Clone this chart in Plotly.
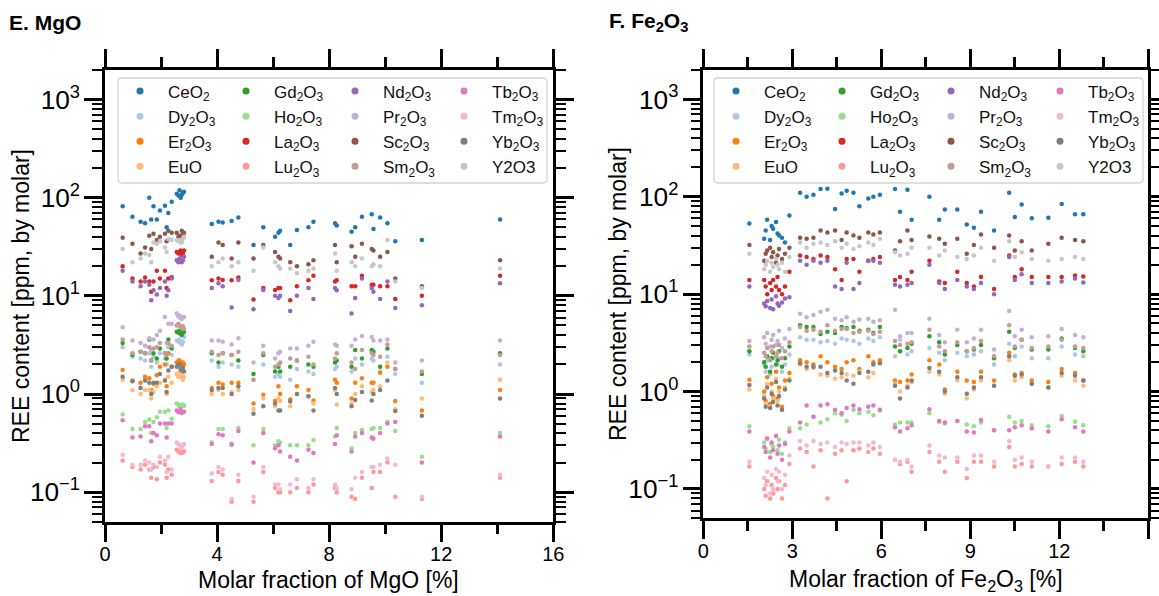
import math
import plotly.graph_objects as go

W, H = 1159, 596
FONT = "Liberation Sans, Arial, sans-serif"

# ---------------- Panel E : x = molar fraction of MgO [%] ----------------
MGO_X = [0.63, 0.98, 1.27, 1.43, 1.58, 1.65, 1.73, 1.85, 1.96, 2.14,
         2.2, 2.26, 2.38, 2.56, 2.62, 2.66, 2.7, 2.74, 2.78, 2.82,
         3.81, 4.05, 4.2, 4.52, 4.76, 5.3, 5.65, 6.07, 6.19, 6.25,
         6.61, 6.85, 7.26, 7.44, 8.21, 8.27, 8.8, 8.93, 9.17, 9.52,
         9.58, 9.82, 10.08, 10.36, 11.31, 14.1]
MGO_CEO2 = [82, 64, 57, 55, 100, 60, 82, 60, 74, 83,
            50, 70, 91, 110, 105, 119, 100, 107, 112, 115,
            54, 57, 56, 58, 63, 33, 50, 40, 44, 46,
            33, 47, 50, 57, 55, 52, 45, 50, 64, 68,
            48, 63, 55, 36, 37, 60]
MGO_DY2O3 = [3.0, 2.4, 2.3, 2.2, 2.6, 1.9, 2.4, 2.1, 2.6, 2.3,
             2.0, 3.0, 2.5, 3.5, 3.4, 3.6, 3.3, 3.2, 3.4, 3.8,
             2.2, 1.9, 2.1, 2.0, 1.9, 1.4, 2.0, 1.5, 1.6, 1.5,
             1.4, 1.8, 1.7, 1.6, 1.8, 1.9, 1.7, 2.3, 2.0, 2.3,
             2.2, 1.7, 2.4, 1.6, 1.3, 2.0]
MGO_ER2O3 = [1.76, 1.37, 1.3, 1.5, 1.45, 1.1, 1.27, 1.55, 1.9, 2.0,
             1.2, 2.6, 1.9, 2.1, 2.2, 2.2, 2.1, 2.0, 2.1, 2.0,
             1.15, 1.3, 1.25, 1.3, 1.3, 0.8, 0.98, 0.85, 1.2, 1.0,
             0.88, 1.2, 1.1, 0.86, 1.4, 1.3, 0.9, 1.3, 1.45, 1.3,
             1.3, 1.65, 1.9, 0.85, 0.68, 1.1]
MGO_EUO = [1.4, 1.09, 1.0, 1.1, 1.1, 0.9, 1.05, 1.2, 1.3, 1.4,
           1.0, 1.5, 1.3, 1.6, 1.5, 1.7, 1.5, 1.6, 1.4, 1.5,
           1.0, 1.1, 1.0, 1.05, 1.1, 0.7, 0.9, 0.75, 0.9, 0.85,
           0.75, 1.0, 0.95, 0.8, 1.1, 0.78, 0.8, 1.0, 1.2, 1.05,
           1.1, 1.2, 2.1, 0.7, 0.9, 1.4]
MGO_GD2O3 = [3.3, 2.5, 2.7, 2.6, 3.6, 2.2, 2.6, 2.3, 2.9, 2.6,
             2.3, 3.6, 2.9, 4.3, 4.2, 4.4, 4.1, 4.0, 4.2, 4.3,
             2.6, 2.1, 2.6, 2.5, 2.2, 1.6, 2.5, 1.7, 1.9, 1.7,
             1.9, 2.2, 2.0, 1.9, 2.1, 2.2, 1.9, 2.8, 2.3, 2.8,
             2.7, 1.9, 2.9, 1.8, 1.6, 2.6]
MGO_HO2O3 = [0.62, 0.44, 0.44, 0.52, 0.55, 0.4, 0.52, 0.58, 0.66, 0.66,
             0.45, 0.68, 0.56, 0.8, 0.78, 0.74, 0.77, 0.76, 0.78, 0.76,
             0.32, 0.44, 0.44, 0.3, 0.45, 0.3, 0.44, 0.3, 0.33, 0.32,
             0.3, 0.3, 0.3, 0.34, 0.37, 0.45, 0.28, 0.4, 0.43, 0.44,
             0.45, 0.45, 0.52, 0.42, 0.23, 0.4]
MGO_LA2O3 = [20, 15, 14, 15.4, 14, 11, 14, 18, 15, 18,
             12, 15, 15.5, 28, 27, 28, 29, 26, 27, 29,
             14.4, 15, 14.5, 14.4, 15.4, 9.2, 12, 11.5, 12, 12,
             9, 12.5, 14.4, 16, 14, 14.4, 12.5, 12.5, 16, 13,
             13, 12.5, 12.5, 9.3, 10, 16]
MGO_LU2O3 = [0.21, 0.18, 0.17, 0.19, 0.17, 0.14, 0.18, 0.135, 0.2, 0.19,
             0.14, 0.17, 0.15, 0.27, 0.26, 0.26, 0.25, 0.25, 0.26, 0.26,
             0.13, 0.16, 0.15, 0.08, 0.13, 0.08, 0.16, 0.11, 0.1, 0.1,
             0.1, 0.11, 0.1, 0.12, 0.11, 0.1, 0.09, 0.085, 0.14, 0.11,
             0.16, 0.16, 0.2, 0.09, 0.085, 0.14]
MGO_ND2O3 = [18, 14, 12.5, 14, 13, 9, 11.4, 10.3, 12, 14,
             10, 11.4, 15, 23, 22, 24, 23, 22, 23, 25,
             12, 13.4, 12.5, 7.6, 14.5, 7.3, 11.5, 10, 9.5, 10,
             7, 10, 12, 9.3, 12, 11.4, 6.6, 9.5, 15, 12,
             11, 9.3, 14, 7.5, 8, 13.4]
MGO_PR2O3 = [4.8, 3.5, 3.3, 3.1, 3.7, 2.8, 3.6, 4.0, 4.4, 6.1,
             3.3, 5.2, 5.2, 6.6, 6.2, 6.3, 5.9, 5.8, 6.0, 6.1,
             3.5, 3.5, 3.4, 3.2, 3.7, 2.1, 3.1, 2.3, 2.6, 2.7,
             2.9, 2.9, 3.1, 3.4, 3.2, 3.1, 3.1, 3.6, 3.9, 3.8,
             3.5, 3.5, 3.6, 2.1, 2.2, 3.5]
MGO_SC2O3 = [39, 34, 27, 31, 41, 30, 43, 37, 40, 43,
             36, 46, 44, 44, 40, 41, 38, 46, 42, 44,
             25, 35, 33, 24, 35, 24, 33, 28, 25, 24,
             22, 20, 21, 23, 33, 22, 32, 25, 34, 30,
             29, 25, 28, 15, 12.5, 23]
MGO_SM2O3 = [3.6, 2.6, 2.7, 2.6, 3.0, 2.2, 2.9, 3.0, 3.3, 2.6,
             2.5, 3.3, 3.1, 5.0, 5.2, 5.0, 4.8, 4.7, 4.9, 4.6,
             2.7, 2.5, 2.6, 2.5, 2.7, 1.4, 2.6, 1.9, 2.0, 2.1,
             2.3, 2.2, 2.4, 2.0, 2.3, 2.6, 2.1, 1.8, 2.8, 2.6,
             2.5, 2.4, 3.2, 1.8, 1.7, 2.5]
MGO_TB2O3 = [0.54, 0.36, 0.37, 0.47, 0.47, 0.33, 0.4, 0.38, 0.5, 0.5,
             0.36, 0.5, 0.5, 0.68, 0.65, 0.66, 0.7, 0.64, 0.66, 0.66,
             0.31, 0.39, 0.38, 0.31, 0.42, 0.2, 0.4, 0.28, 0.3, 0.26,
             0.23, 0.21, 0.27, 0.25, 0.31, 0.38, 0.26, 0.37, 0.4, 0.36,
             0.35, 0.4, 0.5, 0.52, 0.2, 0.37]
MGO_TM2O3 = [0.24, 0.19, 0.19, 0.21, 0.2, 0.17, 0.19, 0.18, 0.23, 0.21,
             0.16, 0.23, 0.17, 0.32, 0.31, 0.3, 0.29, 0.29, 0.3, 0.31,
             0.155, 0.18, 0.17, 0.085, 0.15, 0.09, 0.18, 0.12, 0.12, 0.107,
             0.12, 0.135, 0.11, 0.135, 0.12, 0.11, 0.107, 0.14, 0.16, 0.18,
             0.18, 0.19, 0.22, 0.19, 0.09, 0.15]
MGO_YB2O3 = [1.5, 1.35, 1.15, 1.37, 1.3, 1.0, 1.3, 1.3, 1.6, 1.37,
             1.05, 1.74, 1.9, 1.9, 2.0, 2.0, 1.8, 1.74, 1.85, 1.7,
             1.1, 1.15, 1.15, 1.0, 1.2, 0.63, 0.75, 0.8, 0.68, 0.68,
             0.84, 1.0, 0.95, 0.68, 1.15, 1.0, 0.75, 0.87, 1.05, 0.86,
             1.0, 1.1, 1.37, 0.67, 0.6, 0.9]
MGO_Y2O3 = [30, 22, 24, 27, 26, 22, 35, 34, 36, 31,
            28, 38, 37, 37, 36, 37, 35, 35, 38, 40,
            20, 22, 24, 20, 22, 18, 31, 22, 20, 19,
            19, 17, 18, 19, 27, 18, 22, 20, 24, 20,
            21, 20, 37, 14, 12, 19]

# ---------------- Panel F : x = molar fraction of Fe2O3 [%] ----------------
FE_X = [1.55, 2.05, 2.1, 2.15, 2.25, 2.3, 2.35, 2.45, 2.5, 2.55,
        2.65, 2.75, 2.9, 3.26, 3.48, 3.71, 3.95, 4.18, 4.44, 4.66,
        4.83, 5.06, 5.26, 5.56, 5.73, 5.95, 6.46, 6.63, 6.88, 7.02,
        7.62, 7.95, 8.14, 8.56, 8.88, 9.12, 9.36, 9.8, 10.31, 10.5,
        10.73, 11.07, 11.63, 12.08, 12.53, 12.81]
FE_CEO2 = [53, 37, 45, 58, 36, 50, 47, 55, 42, 40,
           38, 34, 64, 110, 100, 105, 120, 121, 75, 108,
           115, 110, 80, 96, 100, 105, 120, 70, 118, 58,
           100, 58, 74, 74, 52, 48, 70, 45, 110, 62,
           83, 60, 61, 84, 66, 66]
FE_DY2O3 = [2.4, 1.9, 1.6, 2.1, 1.5, 1.8, 2.2, 1.6, 1.9, 2.2,
            1.6, 1.9, 2.4, 3.6, 3.4, 3.4, 3.2, 3.3, 3.1, 3.5,
            3.4, 3.3, 3.1, 3.5, 3.3, 3.6, 2.3, 3.4, 2.4, 2.6,
            2.8, 2.5, 2.1, 2.5, 2.3, 2.4, 2.6, 1.9, 3.1, 2.3,
            2.9, 2.2, 2.2, 2.9, 2.4, 2.3]
FE_ER2O3 = [1.32, 1.0, 0.8, 1.4, 0.75, 1.2, 0.9, 1.6, 0.85, 1.1,
            0.7, 1.3, 1.55, 2.1, 2.0, 1.9, 2.3, 2.0, 1.8, 1.7,
            2.0, 2.1, 1.7, 2.3, 2.0, 2.1, 1.3, 1.25, 1.3, 1.5,
            2.1, 1.9, 1.05, 1.6, 1.3, 1.25, 1.6, 1.3, 2.5, 1.5,
            1.55, 1.3, 1.25, 1.7, 1.55, 1.3]
FE_EUO = [1.05, 0.9, 0.75, 1.2, 0.7, 1.0, 0.85, 1.35, 0.8, 1.0,
          0.65, 1.1, 1.35, 1.9, 1.7, 1.75, 1.5, 1.45, 1.35, 1.4,
          1.5, 1.45, 1.6, 1.4, 1.55, 1.95, 1.2, 1.0, 1.15, 1.25,
          1.6, 1.5, 0.95, 1.3, 0.85, 1.05, 1.3, 1.15, 2.1, 1.3,
          1.4, 1.2, 1.1, 1.45, 1.3, 1.15]
FE_GD2O3 = [2.6, 2.0, 1.8, 2.3, 1.6, 2.2, 2.5, 1.9, 2.1, 2.6,
            1.8, 2.2, 2.9, 4.8, 4.6, 4.6, 3.9, 4.1, 4.0, 4.6,
            4.5, 4.6, 4.2, 4.3, 4.0, 4.6, 2.9, 2.6, 2.8, 3.1,
            3.7, 3.2, 2.4, 3.0, 2.6, 2.7, 3.0, 2.2, 4.1, 2.8,
            3.4, 2.7, 2.7, 3.5, 2.8, 2.6]
FE_HO2O3 = [0.44, 0.3, 0.26, 0.33, 0.24, 0.29, 0.27, 0.35, 0.25, 0.32,
            0.23, 0.3, 0.42, 0.42, 0.46, 0.55, 0.48, 0.52, 0.6, 0.58,
            0.5, 0.65, 0.6, 0.62, 0.57, 0.64, 0.46, 0.48, 0.48, 0.48,
            0.6, 0.49, 0.47, 0.5, 0.46, 0.44, 0.48, 0.4, 0.55, 0.48,
            0.5, 0.45, 0.44, 0.56, 0.49, 0.45]
FE_LA2O3 = [14, 14, 12, 10, 13, 11, 14, 12, 15, 11,
            10, 12, 17, 25, 24, 23, 25, 24, 18, 14,
            23, 23, 17, 22, 23, 24, 14, 15, 14, 17,
            22, 13.5, 13, 17, 13, 12, 15, 11.3, 25, 15,
            18, 15, 15, 15, 15.5, 15.2]
FE_LU2O3 = [0.17, 0.1, 0.085, 0.12, 0.08, 0.11, 0.09, 0.13, 0.1, 0.12,
            0.08, 0.11, 0.18, 0.26, 0.24, 0.17, 0.25, 0.08, 0.23, 0.25,
            0.12, 0.25, 0.26, 0.24, 0.26, 0.23, 0.2, 0.18, 0.19, 0.15,
            0.24, 0.19, 0.15, 0.19, 0.13, 0.19, 0.19, 0.17, 0.27, 0.17,
            0.18, 0.17, 0.17, 0.18, 0.19, 0.17]
FE_ND2O3 = [12, 8, 7.5, 8.5, 7.2, 8.8, 7, 9.5, 8, 7.6,
            8.2, 9, 9.3, 22, 20, 22, 21, 22, 12, 11.3,
            21, 11.3, 13, 22, 22, 21, 12.5, 12, 12.5, 13,
            20, 13, 11.3, 14, 12, 11.3, 13, 10, 24, 14,
            16, 13, 13, 13.5, 14.5, 13.2]
FE_PR2O3 = [3.3, 3.6, 3.1, 4.0, 2.9, 3.4, 3.8, 3.0, 3.3, 4.2,
            2.8, 3.5, 4.4, 6.3, 5.8, 6.1, 6.6, 6.9, 5.6, 5.4,
            5.8, 5.2, 5.5, 5.6, 5.2, 5.4, 6.9, 3.7, 4.0, 4.0,
            5.6, 3.8, 3.2, 4.3, 3.2, 3.5, 4.3, 2.7, 6.7, 3.7,
            4.3, 3.6, 3.7, 4.4, 3.8, 3.6]
FE_SC2O3 = [32, 22, 26, 28, 30, 24, 27, 21, 25, 29,
            23, 26, 30, 38, 37, 38, 45, 43, 45, 36,
            43, 40, 38, 43, 41, 43, 28, 35, 45, 36,
            39, 37, 33, 37, 26, 32, 41, 30, 40, 28,
            35, 28, 33, 38, 36, 35]
FE_SM2O3 = [2.9, 2.5, 2.3, 2.8, 2.1, 2.6, 2.9, 2.3, 2.5, 3.0,
            2.2, 2.6, 3.2, 4.6, 4.2, 4.3, 4.1, 4.8, 4.2, 4.4,
            4.4, 4.0, 4.1, 4.2, 3.9, 4.1, 3.3, 3.0, 3.1, 3.2,
            4.3, 2.9, 2.6, 3.2, 2.6, 2.8, 3.3, 2.3, 4.8, 2.9,
            3.4, 2.8, 2.9, 3.4, 2.9, 2.8]
FE_TB2O3 = [0.39, 0.27, 0.24, 0.33, 0.21, 0.3, 0.25, 0.35, 0.23, 0.28,
            0.2, 0.29, 0.39, 0.48, 0.72, 0.55, 0.72, 0.74, 0.65, 0.6,
            0.68, 0.72, 0.66, 0.7, 0.72, 0.65, 0.43, 0.39, 0.42, 0.45,
            0.66, 0.5, 0.48, 0.5, 0.39, 0.38, 0.51, 0.4, 0.4, 0.43,
            0.45, 0.42, 0.39, 0.52, 0.43, 0.39]
FE_TM2O3 = [0.19, 0.13, 0.11, 0.15, 0.09, 0.14, 0.1, 0.16, 0.12, 0.15,
            0.1, 0.14, 0.22, 0.31, 0.28, 0.31, 0.29, 0.3, 0.27, 0.3,
            0.29, 0.3, 0.3, 0.28, 0.3, 0.27, 0.2, 0.19, 0.2, 0.17,
            0.28, 0.22, 0.21, 0.21, 0.16, 0.22, 0.22, 0.19, 0.31, 0.2,
            0.21, 0.19, 0.17, 0.21, 0.21, 0.19]
FE_YB2O3 = [1.17, 0.85, 0.7, 1.1, 0.68, 0.95, 0.78, 1.25, 0.72, 0.9,
            0.65, 1.05, 1.3, 1.95, 1.8, 1.8, 1.8, 1.55, 1.65, 1.55,
            1.3, 1.2, 1.55, 1.6, 1.9, 1.95, 1.15, 0.85, 1.1, 1.3,
            1.75, 1.6, 1.0, 1.4, 0.95, 1.1, 1.4, 1.15, 2.3, 1.45,
            1.5, 1.2, 1.1, 1.55, 1.45, 1.3]
FE_Y2O3 = [26, 18, 20, 22, 17, 21, 19, 23, 20, 18,
           21, 17, 24, 34, 30, 33, 34, 32, 35, 30,
           33, 29, 31, 34, 32, 37, 27, 25, 26, 30,
           30, 25, 28, 24, 23, 25, 30, 22, 35, 24,
           27, 23, 22, 23, 24, 23]

# ---------------- series metadata ----------------
OXIDES = ["CeO2", "Dy2O3", "Er2O3", "EuO", "Gd2O3", "Ho2O3", "La2O3", "Lu2O3",
          "Nd2O3", "Pr2O3", "Sc2O3", "Sm2O3", "Tb2O3", "Tm2O3", "Yb2O3", "Y2O3"]
LEGEND_LABELS = ["CeO<sub>2</sub>", "Dy<sub>2</sub>O<sub>3</sub>", "Er<sub>2</sub>O<sub>3</sub>", "EuO",
                 "Gd<sub>2</sub>O<sub>3</sub>", "Ho<sub>2</sub>O<sub>3</sub>", "La<sub>2</sub>O<sub>3</sub>",
                 "Lu<sub>2</sub>O<sub>3</sub>", "Nd<sub>2</sub>O<sub>3</sub>", "Pr<sub>2</sub>O<sub>3</sub>",
                 "Sc<sub>2</sub>O<sub>3</sub>", "Sm<sub>2</sub>O<sub>3</sub>", "Tb<sub>2</sub>O<sub>3</sub>",
                 "Tm<sub>2</sub>O<sub>3</sub>", "Yb<sub>2</sub>O<sub>3</sub>", "Y2O3"]
COLORS = ["#1f77b4", "#aec7e8", "#ff7f0e", "#ffbb78", "#2ca02c", "#98df8a", "#d62728", "#ff9896",
          "#9467bd", "#c5b0d5", "#8c564b", "#c49c94", "#e377c2", "#f7b6d2", "#7f7f7f", "#c7c7c7"]

MGO_SERIES = [MGO_CEO2, MGO_DY2O3, MGO_ER2O3, MGO_EUO, MGO_GD2O3, MGO_HO2O3, MGO_LA2O3, MGO_LU2O3,
              MGO_ND2O3, MGO_PR2O3, MGO_SC2O3, MGO_SM2O3, MGO_TB2O3, MGO_TM2O3, MGO_YB2O3, MGO_Y2O3]
FE_SERIES = [FE_CEO2, FE_DY2O3, FE_ER2O3, FE_EUO, FE_GD2O3, FE_HO2O3, FE_LA2O3, FE_LU2O3,
             FE_ND2O3, FE_PR2O3, FE_SC2O3, FE_SM2O3, FE_TB2O3, FE_TM2O3, FE_YB2O3, FE_Y2O3]

fig = go.Figure()

for i, name in enumerate(OXIDES):
    fig.add_trace(go.Scatter(x=MGO_X, y=MGO_SERIES[i], mode="markers", name=name,
                             marker=dict(size=4.5, color=COLORS[i]), xaxis="x", yaxis="y",
                             showlegend=False))
    fig.add_trace(go.Scatter(x=FE_X, y=FE_SERIES[i], mode="markers", name=name,
                             marker=dict(size=4.5, color=COLORS[i]), xaxis="x2", yaxis="y2",
                             showlegend=False))

# legend entries: one plotly legend per column (4 columns x 4 rows per panel)
LEG_FONT = 17
leg_layout = {}
panel_shift = [0, 596]
col_marker_x = [140, 246, 355, 464]
for p in range(2):
    for c in range(4):
        idx = p * 4 + c + 1
        lid = "legend" if idx == 1 else f"legend{idx}"
        for r in range(4):
            k = c * 4 + r
            fig.add_trace(go.Scatter(x=[None], y=[None], mode="markers", name=LEGEND_LABELS[k],
                                     marker=dict(size=7, color=COLORS[k]), legend=lid,
                                     xaxis="x" if p == 0 else "x2", yaxis="y" if p == 0 else "y2",
                                     showlegend=True, hoverinfo="skip"))
        left_px = col_marker_x[c] + panel_shift[p] - 28
        leg_layout[lid] = dict(x=left_px / W, y=1 - 73.5 / H, xanchor="left", yanchor="top",
                               orientation="v", bgcolor="rgba(0,0,0,0)", borderwidth=0,
                               itemwidth=46, font=dict(size=LEG_FONT, family=FONT, color="#111"),
                               traceorder="normal")


def rrect(x0, y0, x1, y1, r):
    def P(x, y):
        return f"{x / W:.5f},{1 - y / H:.5f}"
    return (f"M{P(x0 + r, y0)} L{P(x1 - r, y0)} Q{P(x1, y0)} {P(x1, y0 + r)} "
            f"L{P(x1, y1 - r)} Q{P(x1, y1)} {P(x1 - r, y1)} L{P(x0 + r, y1)} "
            f"Q{P(x0, y1)} {P(x0, y1 - r)} L{P(x0, y0 + r)} Q{P(x0, y0)} {P(x0 + r, y0)} Z")


shapes = []
for p in range(2):
    s = panel_shift[p]
    shapes.append(dict(type="path", xref="paper", yref="paper",
                       path=rrect(118 + s, 78, 547 + s, 183, 4),
                       line=dict(color="#d4d4d4", width=1.3),
                       fillcolor="rgba(255,255,255,0.8)", layer="above"))


def xcfg(domain, rng, major_step, minor_step, anchor):
    return dict(domain=domain, range=rng, anchor=anchor, tickmode="linear", tick0=0,
                dtick=major_step, ticks="outside", ticklen=18, tickwidth=2.5,
                tickcolor="black", showline=True, linewidth=2.5, linecolor="black",
                mirror="allticks", showgrid=False, zeroline=False, automargin=False,
                ticklabelstandoff=-5,
                tickfont=dict(size=20, family=FONT, color="black"),
                minor=dict(tickmode="linear", tick0=0, dtick=minor_step, ticks="outside",
                           ticklen=10, tickwidth=2.5, tickcolor="black", showgrid=False))


def ycfg(domain, anchor):
    return dict(domain=domain, type="log", range=[math.log10(0.05), math.log10(2000)],
                anchor=anchor, tickmode="linear", tick0=0, dtick=1, exponentformat="power",
                labelalias={"1": "10<sup>0</sup>", "10": "10<sup>1</sup>"},
                ticks="outside", ticklen=18, tickwidth=2.5, tickcolor="black",
                showline=True, linewidth=2.5, linecolor="black", mirror="allticks",
                showgrid=False, zeroline=False, automargin=False,
                tickfont=dict(size=21, family=FONT, color="black"),
                minor=dict(dtick="D1", ticks="outside", ticklen=10,
                           tickwidth=2, tickcolor="black", showgrid=False))


TITLE_FONT = dict(size=23, family=FONT, color="black")
annotations = [
    dict(text="<b>E. MgO</b>", x=7 / W, y=1 - 22 / H, xanchor="left", yanchor="middle"),
    dict(text="<b>F. Fe<sub>2</sub>O<sub>3</sub></b>", x=607 / W, y=1 - 22 / H,
         xanchor="left", yanchor="middle"),
    dict(text="Molar fraction of MgO [%]", x=329 / W, y=1 - 580 / H, xanchor="center",
         yanchor="middle", font=TITLE_FONT),
    dict(text="Molar fraction of Fe<sub>2</sub>O<sub>3</sub> [%]", x=926 / W, y=1 - 580 / H,
         xanchor="center", yanchor="middle", font=TITLE_FONT),
    dict(text="REE content [ppm, by molar]", x=21 / W, y=1 - 296 / H, textangle=-90,
         xanchor="center", yanchor="middle", font=TITLE_FONT),
    dict(text="REE content [ppm, by molar]", x=618 / W, y=1 - 294 / H, textangle=-90,
         xanchor="center", yanchor="middle", font=TITLE_FONT),
]
for a in annotations:
    a.setdefault("font", dict(size=21, family=FONT, color="black"))
    a.update(xref="paper", yref="paper", showarrow=False)

fig.update_layout(
    width=W, height=H,
    margin=dict(l=0, r=0, t=0, b=0),
    paper_bgcolor="white", plot_bgcolor="white",
    font=dict(family=FONT, color="black"),
    xaxis=xcfg([105 / W, 553.3 / W], [0, 16], 4, 2, "y"),
    yaxis=ycfg([1 - 521.7 / H, 1 - 70 / H], "x"),
    xaxis2=xcfg([703.4 / W, 1148.3 / W], [0, 15], 3, 1.5, "y2"),
    yaxis2=ycfg([1 - 518.3 / H, 1 - 70 / H], "x2"),
    shapes=shapes,
    annotations=annotations,
    **leg_layout,
)

fig.write_html("out.html", config={"displayModeBar": False},
               post_script="document.body.style.margin='0px';document.body.style.padding='0px';")
